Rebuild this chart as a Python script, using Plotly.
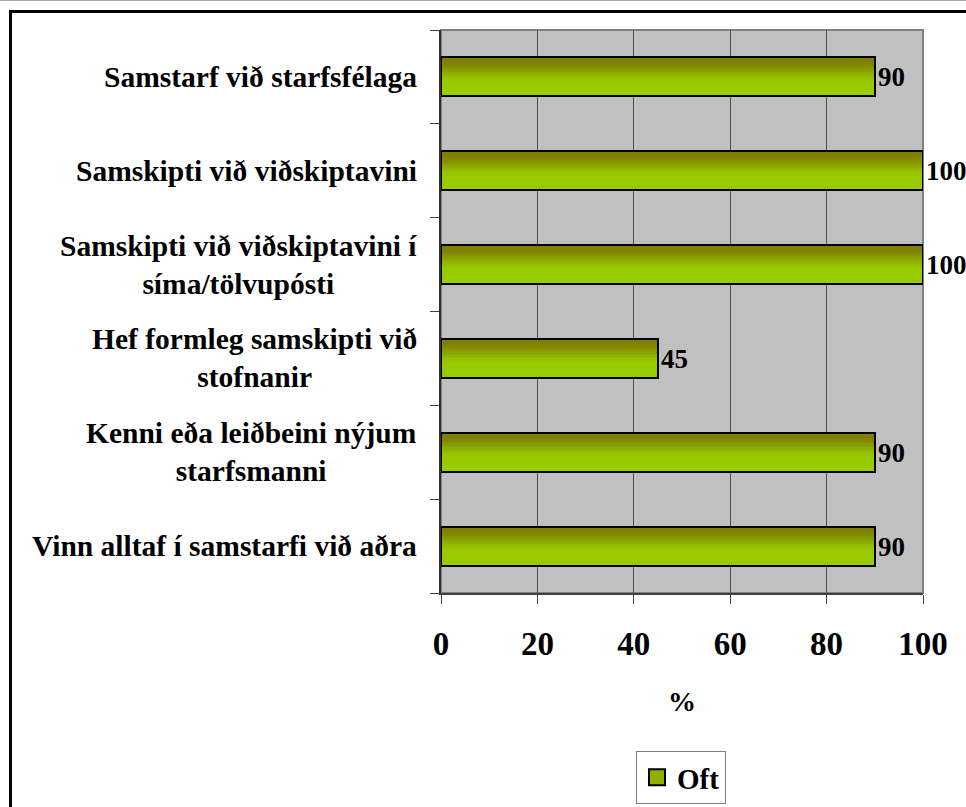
import plotly.graph_objects as go

# ---- data ----
categories = [
    "Samstarf við starfsfélaga",
    "Samskipti við viðskiptavini",
    "Samskipti við viðskiptavini í<br>síma/tölvupósti",
    "Hef formleg samskipti við<br>stofnanir",
    "Kenni eða leiðbeini nýjum<br>starfsmanni",
    "Vinn alltaf í samstarfi við aðra",
]
values = [90, 100, 100, 45, 90, 90]
series_name = "Oft"
x_ticks = [0, 20, 40, 60, 80, 100]
x_title = "%"

# ---- layout geometry (pixels, page coords) ----
W, H = 966, 807
PL, PR, PT, PB = 441, 923, 30, 593
pw, ph = PR - PL, PB - PT

def px(x):
    return (x - PL) / pw

def py(y):
    return (PB - y) / ph

FONT = "Liberation Serif"
n = len(categories)
ypos = [n - 1 - i for i in range(n)]  # first category at top
bw = 0.415

olive = (126, 126, 0)
green = (153, 204, 0)

def mix(t):
    a, b = 0.05, 0.68
    s = min(max((t - a) / (b - a), 0), 1)
    s = s * s * (3 - 2 * s)
    c = [round(olive[j] + (green[j] - olive[j]) * s) for j in range(3)]
    return "rgb(%d,%d,%d)" % tuple(c)

fig = go.Figure()

K = 24
for k in range(K):
    lo = -bw / 2 + k * bw / K
    t = 1 - (k + 0.5) / K
    fig.add_trace(go.Bar(
        x=values, y=ypos, orientation="h",
        width=bw / 2 - lo, offset=lo,
        marker=dict(color=mix(t), line=dict(width=0)),
        showlegend=False, hoverinfo="skip",
    ))

fig.add_trace(go.Bar(
    x=values, y=ypos, orientation="h", width=bw,
    marker=dict(color="rgba(0,0,0,0)", line=dict(color="black", width=2)),
    text=[str(v) for v in values], textposition="outside",
    textfont=dict(family=FONT, size=27, color="black", weight="bold"),
    constraintext="none", cliponaxis=False, showlegend=False,
))

fig.add_trace(go.Scatter(
    x=[None], y=[None], mode="markers", name=series_name,
    marker=dict(symbol="square", size=19, color="rgb(143,176,0)",
                line=dict(color="black", width=2)),
))

annotations = []
for cat, yv in zip(categories, ypos):
    annotations.append(dict(
        x=0, xref="paper", y=yv, yref="y", text=cat, showarrow=False,
        xanchor="right", yanchor="middle", align="center", xshift=-22,
        font=dict(family=FONT, size=29.5, color="black", weight="bold"),
    ))

shapes = [
    dict(type="rect", xref="paper", yref="paper", x0=0, x1=1, y0=0, y1=1,
         line=dict(color="#808080", width=2), layer="below"),
    dict(type="rect", xref="paper", yref="paper",
         x0=px(10.5), x1=px(1000), y0=py(11.5), y1=py(900),
         line=dict(color="black", width=3), fillcolor="rgba(0,0,0,0)"),
    dict(type="line", xref="paper", yref="paper",
         x0=px(-5), x1=px(1000), y0=py(0.5), y1=py(0.5),
         line=dict(color="#a8a8a8", width=1)),
]

fig.update_layout(
    width=W, height=H,
    margin=dict(l=PL, r=W - PR, t=PT, b=H - PB, pad=0, autoexpand=False),
    paper_bgcolor="white", plot_bgcolor="#C0C0C0",
    barmode="overlay", bargap=0,
    font=dict(family=FONT, color="black"),
    annotations=annotations, shapes=shapes,
    legend=dict(
        x=px(681), y=py(804), xanchor="center", yanchor="bottom",
        bgcolor="white", bordercolor="#808080", borderwidth=1,
        font=dict(family=FONT, size=29, color="black", weight="bold"),
        itemsizing="trace", tracegroupgap=0,
    ),
    xaxis=dict(
        range=[0, 100], tickvals=x_ticks, ticktext=[str(v) for v in x_ticks],
        showgrid=True, gridcolor="#505050", gridwidth=1,
        ticks="outside", ticklen=9, tickcolor="#404040", tickwidth=1,
        showline=True, linecolor="#404040", linewidth=2,
        tickfont=dict(family=FONT, size=33, color="black", weight="bold"),
        ticklabelstandoff=11,
        title=dict(text=x_title, standoff=31,
                   font=dict(family=FONT, size=28, color="black", weight="bold")),
        zeroline=False, fixedrange=True,
    ),
    yaxis=dict(
        range=[-0.5, n - 0.5], tickvals=[v - 0.5 for v in range(n + 1)],
        showticklabels=False, showgrid=False, zeroline=False,
        ticks="outside", ticklen=9, tickcolor="#404040", tickwidth=1,
        showline=True, linecolor="#303030", linewidth=2, fixedrange=True,
    ),
)

fig.write_html(
    "out.html",
    config={"displayModeBar": False},
    post_script="document.body.style.margin='0';document.body.style.overflow='hidden';",
)
